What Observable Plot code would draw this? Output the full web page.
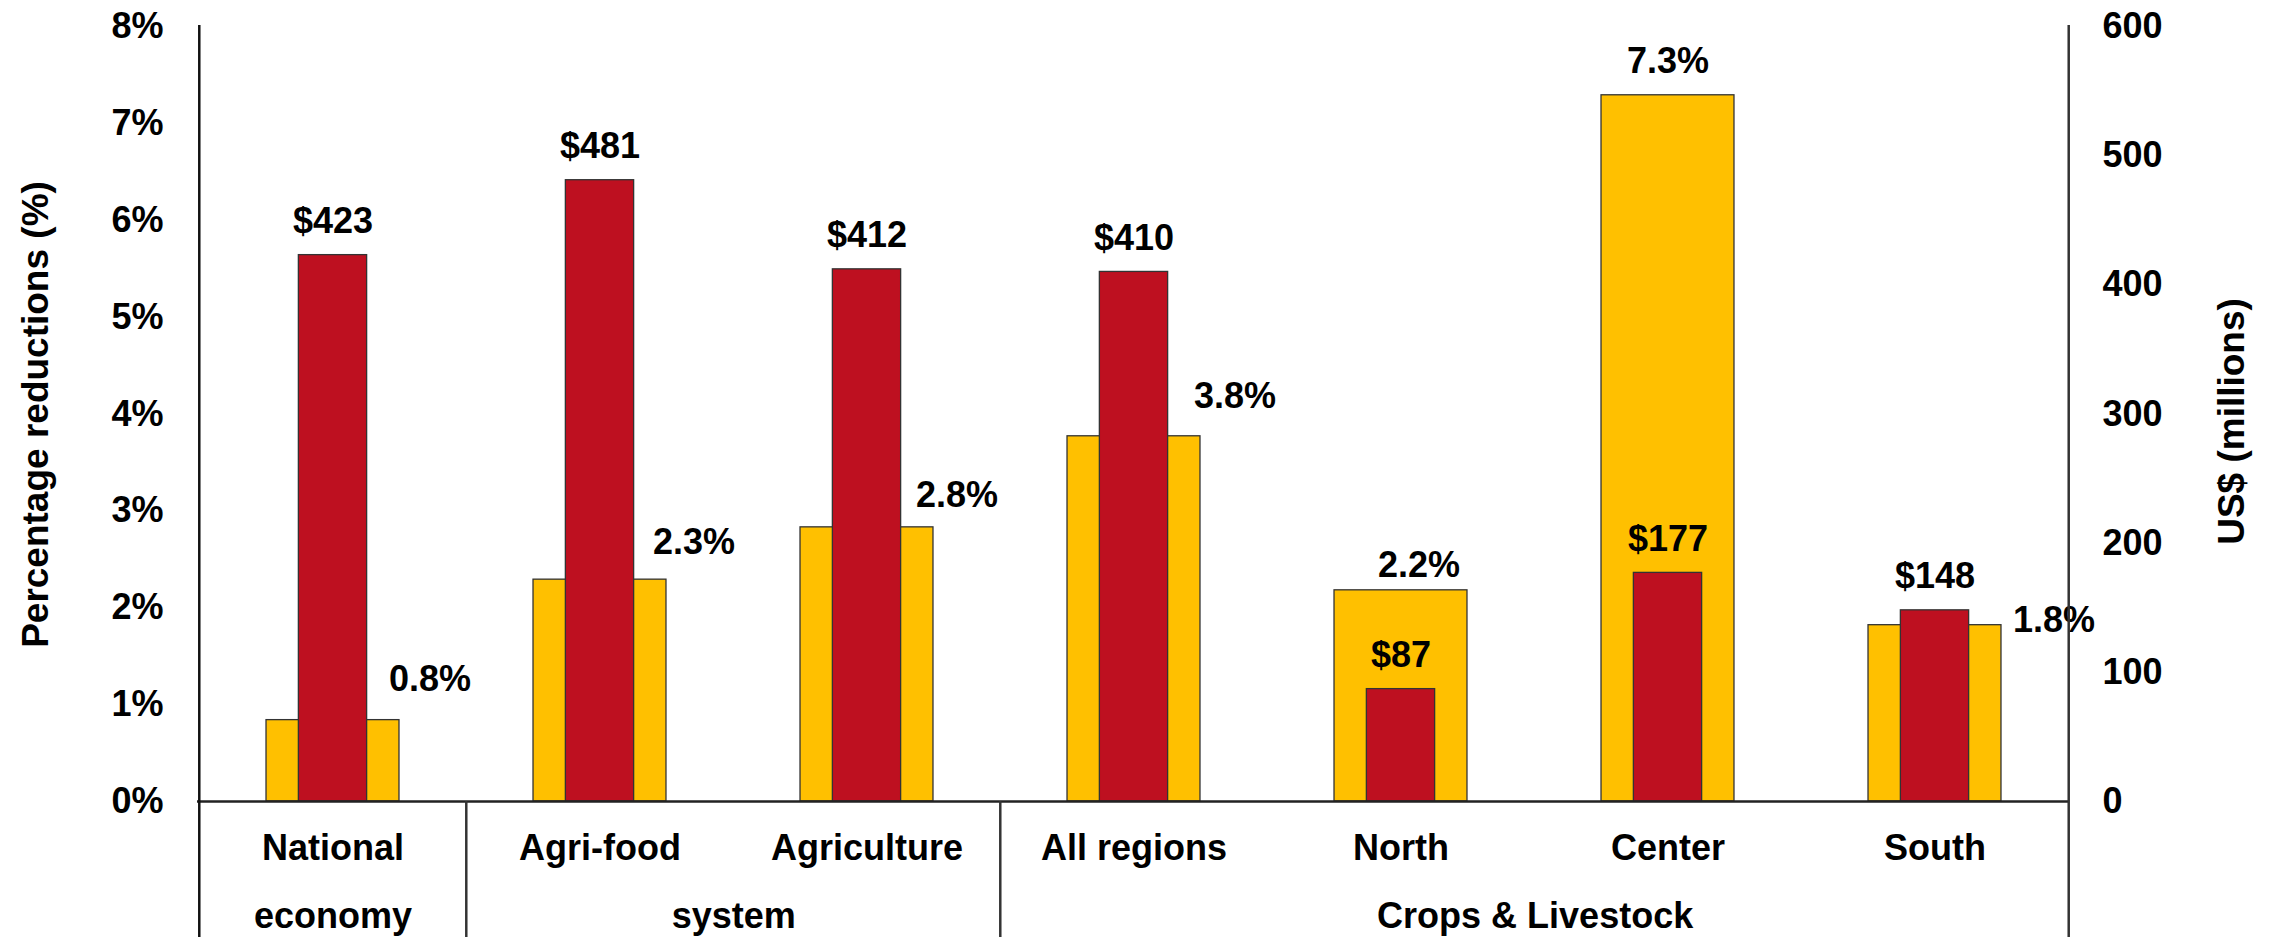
<!DOCTYPE html>
<html>
<head>
<meta charset="utf-8">
<script src="https://cdn.jsdelivr.net/npm/d3@7"></script>
<script src="https://cdn.jsdelivr.net/npm/@observablehq/plot@0.6"></script>
<style>
  html, body { margin: 0; padding: 0; background: #fff; overflow: hidden; }
  #chart { width: 2272px; height: 937px; }
</style>
</head>
<body>
<div id="chart"></div>
<script>
// ---------------- data ----------------
const categories = ["National", "Agri-food", "Agriculture", "All regions", "North", "Center", "South"];
const pctReduction = [0.84, 2.29, 2.83, 3.77, 2.18, 7.29, 1.82];   // left axis (%)
const usdMillions = [423, 481, 412, 410, 87, 177, 148];              // right axis (US$ millions)
const groupLabels = ["economy", "system", "Crops & Livestock"];
const groupFirst = ["National", "Agri-food", "All regions"];
const groupLast = ["National", "Agriculture", "South"];
const leftTicks = [0, 1, 2, 3, 4, 5, 6, 7, 8];
const rightTicks = [0, 100, 200, 300, 400, 500, 600];
const leftTitle = "Percentage reductions (%)";
const rightTitle = "US$ (millions)";

// ---------------- layout / style ----------------
const W = 2272, H = 937;
const mL = 197, mR = 203, mT = 26, mB = 136;
const bw = (W - mL - mR) / categories.length;
const usdPerPct = rightTicks[rightTicks.length - 1] / leftTicks[leftTicks.length - 1];
const YELLOW = "#FFC000", RED = "#BE1020", OUTLINE = "#333";
const FONT = 36;
// placement of the % labels relative to the top-centre of each yellow bar
const pctLabelDx = [97, 94, 90, 101, 18, 0, 119];
const pctLabelDy = [-29, -26, -20, -28, -13, -22, 7];

const rows = categories.map((c, i) => ({cat: c, pct: pctReduction[i], usd: usdMillions[i]}));

const pctLabelMarks = rows.map((r, i) =>
  Plot.text([r], {
    x: "cat", y: "pct", text: d => d.pct.toFixed(1) + "%",
    lineAnchor: "bottom", dx: pctLabelDx[i], dy: pctLabelDy[i],
    fontSize: FONT, fontWeight: "bold", fill: "#000"
  })
);

const groupMarks = groupLabels.map((g, i) => {
  const span = categories.indexOf(groupLast[i]) - categories.indexOf(groupFirst[i]);
  return Plot.text([groupFirst[i]], {
    x: d => d, text: () => g, frameAnchor: "bottom", lineAnchor: "bottom",
    dx: span / 2 * bw, dy: 126, fontSize: FONT, fontWeight: "bold", fill: "#000"
  });
});

const chart = Plot.plot({
  width: W, height: H,
  marginLeft: mL, marginRight: mR, marginTop: mT, marginBottom: mB,
  style: {fontFamily: "'Liberation Sans', Arial, sans-serif", fontSize: FONT + "px", fontWeight: "bold", background: "#fff", color: "#000"},
  x: {domain: categories, padding: 0, paddingInner: 0, paddingOuter: 0},
  y: {domain: [0, 8]},
  marks: [
    // yellow % bars (left axis)
    Plot.barY(rows, {x: "cat", y: "pct", fill: YELLOW, stroke: OUTLINE, strokeWidth: 1.3,
      insetLeft: (bw - 133.4) / 2, insetRight: (bw - 133.4) / 2}),
    // red US$ bars (right axis)
    Plot.barY(rows, {x: "cat", y: d => d.usd / usdPerPct, fill: RED, stroke: OUTLINE, strokeWidth: 1.3,
      insetLeft: (bw - 68.7) / 2, insetRight: (bw - 68.7) / 2}),
    // red labels
    Plot.text(rows, {x: "cat", y: d => d.usd / usdPerPct, text: d => "$" + d.usd,
      lineAnchor: "bottom", dy: -22, fontSize: FONT, fontWeight: "bold", fill: "#000"}),
    ...pctLabelMarks,
    // baseline
    Plot.ruleY([0], {stroke: "#222", strokeWidth: 2.5}),
    // left and right axis lines, extended to the bottom
    Plot.ruleX([categories[0]], {dx: -bw / 2, insetTop: -1, insetBottom: -mB, stroke: "#111", strokeWidth: 2.5}),
    Plot.ruleX([categories[categories.length - 1]], {dx: bw / 2, insetTop: -1, insetBottom: -mB, stroke: "#333", strokeWidth: 2.5}),
    // group separators below the axis
    Plot.ruleX(["Agri-food", "All regions"], {dx: -bw / 2, insetTop: H - mT - mB, insetBottom: -mB, stroke: "#333", strokeWidth: 2.5}),
    // axes
    Plot.axisY(leftTicks, {anchor: "left", tickSize: 0, tickPadding: 34, tickFormat: d => d + "%", label: null,
      fontSize: FONT, fontWeight: "bold"}),
    Plot.axisY(rightTicks.map(v => v / usdPerPct), {anchor: "right", tickSize: 0, tickPadding: 33,
      tickFormat: d => String(Math.round(d * usdPerPct)), label: null, fontSize: FONT, fontWeight: "bold"}),
    Plot.axisX({anchor: "bottom", tickSize: 0, tickPadding: 33, label: null, fontSize: FONT, fontWeight: "bold"}),
    ...groupMarks,
    // axis titles
    Plot.text([leftTitle], {text: d => d, frameAnchor: "left", textAnchor: "middle", rotate: -90, lineAnchor: "bottom",
      dx: 47 - mL, dy: 414 - (mT + H - mB) / 2, fontSize: 37, fontWeight: "bold", fill: "#000"}),
    Plot.text([rightTitle], {text: d => d, frameAnchor: "right", textAnchor: "middle", rotate: -90, lineAnchor: "bottom",
      dx: 2243 - (W - mR), dy: 421 - (mT + H - mB) / 2, fontSize: 37, fontWeight: "bold", fill: "#000"})
  ]
});

document.getElementById("chart").appendChild(chart);
</script>
</body>
</html>
